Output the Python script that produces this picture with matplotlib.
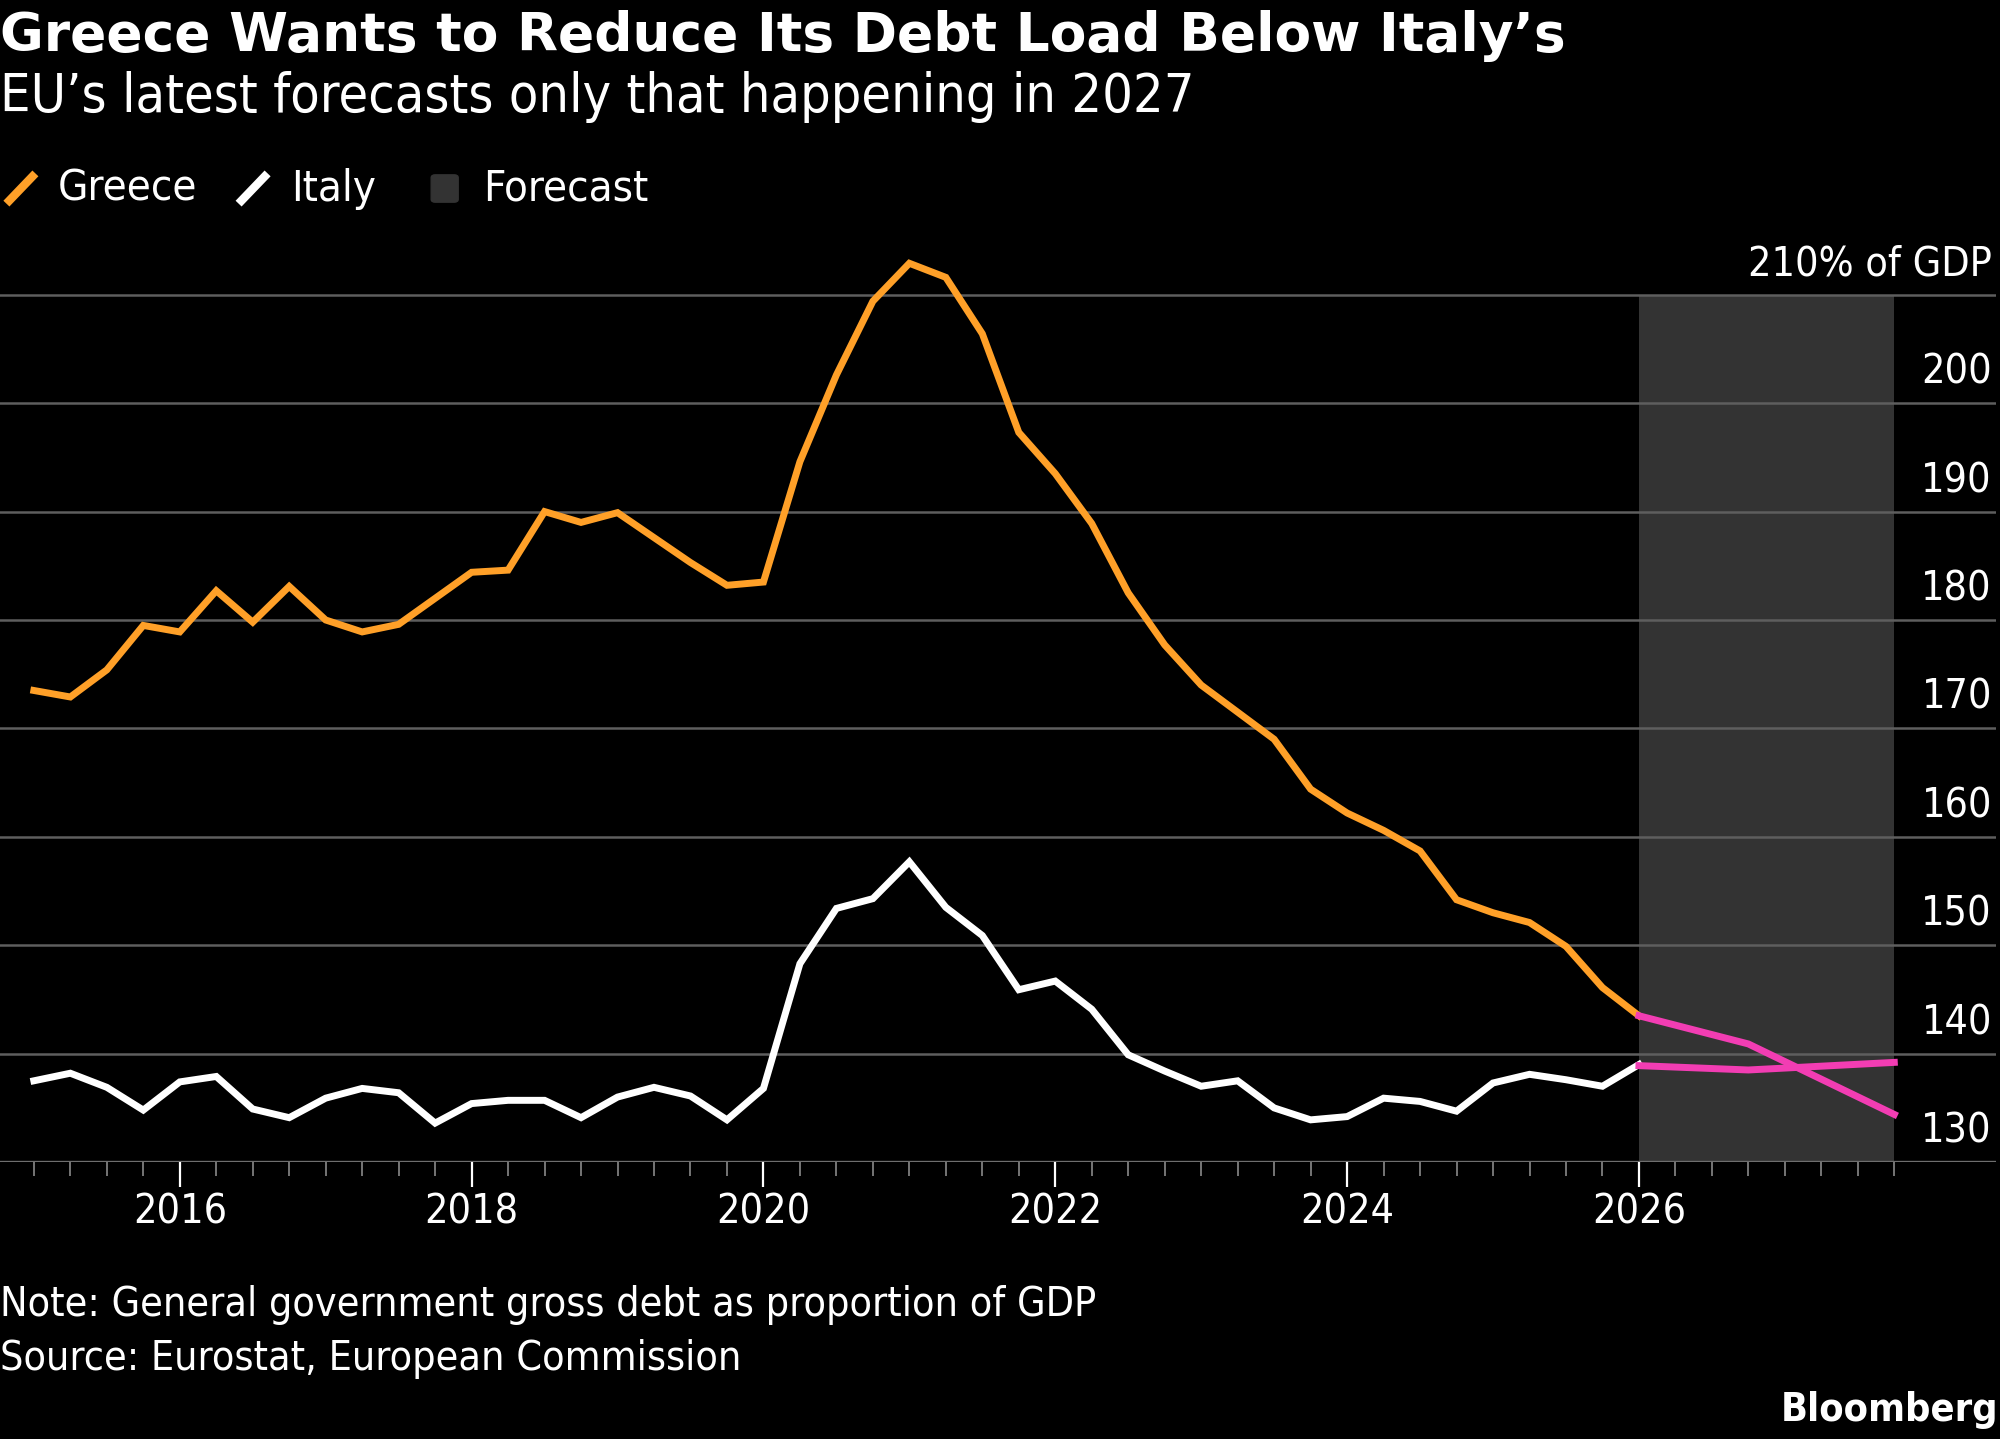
import numpy as np
import matplotlib
matplotlib.use('Agg')
import matplotlib.pyplot as plt
from matplotlib import font_manager
from matplotlib.lines import Line2D
from matplotlib.patches import FancyBboxPatch

# quarterly observations, plotted at fractional years
quarters = np.arange(2015.0, 2026.01, 0.25)
greece = [173.5, 172.9, 175.4, 179.5, 178.9, 182.7, 179.8, 183.1,
          180.0, 178.9, 179.6, 182.0, 184.4, 184.6, 190.0, 189.0,
          189.9, 187.6, 185.3, 183.2, 183.5, 194.6, 202.6, 209.4,
          212.9, 211.6, 206.4, 197.3, 193.5, 188.9, 182.5, 177.7,
          174.0, 171.5, 169.0, 164.4, 162.2, 160.6, 158.7, 154.2,
          153.0, 152.1, 149.9, 146.1, 143.5]
italy = [137.5, 138.2, 136.9, 134.8, 137.4, 137.9, 134.9, 134.1,
         135.9, 136.8, 136.4, 133.6, 135.4, 135.7, 135.7, 134.1,
         136.0, 136.9, 136.1, 133.9, 136.8, 148.3, 153.4, 154.3,
         157.7, 153.5, 150.9, 145.9, 146.7, 144.1, 139.9, 138.4,
         137.0, 137.5, 135.0, 133.9, 134.2, 135.9, 135.6, 134.7,
         137.3, 138.1, 137.6, 137.0, 139.0]

forecast_x = [2026.0, 2026.75, 2027.75]
greece_fc = [143.5, 140.9, 134.4]
italy_fc = [138.9, 138.5, 139.2]

year_ticks = [2016, 2018, 2020, 2022, 2024, 2026]
y_ticks = [130, 140, 150, 160, 170, 180, 190, 200, 210]
y_labels = ['130', '140', '150', '160', '170', '180', '190', '200', '210% of GDP']

ORANGE = '#FFA028'
PINK = '#F23DB3'
SHADE = '#333333'
GRID = '#5e5e5e'
LW = 5.0

names = {f.name for f in font_manager.fontManager.ttflist}
if 'Liberation Sans Narrow' in names:
    narrow = dict(family='Liberation Sans Narrow')
else:
    narrow = dict(family='DejaVu Sans', stretch='condensed')

fig = plt.figure(figsize=(20, 14.39), dpi=100, facecolor='black')
renderer = fig.canvas.get_renderer()


def fit(t, width_px):
    w = t.get_window_extent(renderer).width
    t.set_fontsize(t.get_fontsize() * width_px / w)
    return t.get_fontsize()


# base text size taken from the note line
note = fig.text(0.0, 0.0931, 'Note: General government gross debt as proportion of GDP',
                color='white', va='center', fontsize=30, **narrow)
fs = fit(note, 1094)
fig.text(0.0, 0.0559, 'Source: Eurostat, European Commission',
         color='white', va='center', fontsize=fs, **narrow)
logo = fig.text(0.999, 0.0204, 'Bloomberg', color='white', va='center', ha='right',
                fontweight='bold', fontsize=30, **narrow)
fit(logo, 217)

title = fig.text(0.0, 0.975, 'Greece Wants to Reduce Its Debt Load Below Italy\u2019s',
                 color='white', va='center', fontweight='bold', fontsize=34,
                 family='DejaVu Sans')
fit(title, 1566)
sub = fig.text(0.0, 0.9326, 'EU\u2019s latest forecasts only that happening in 2027',
               color='white', va='center', fontsize=40, **narrow)
fit(sub, 1193)

# legend
ly = 0.869
lfs = fs * 1.06
for x0, col, lab, tx in [(0.0032, ORANGE, 'Greece', 0.0287), (0.1193, 'white', 'Italy', 0.1454)]:
    fig.add_artist(Line2D([x0, x0 + 0.0145], [ly - 0.0105, ly + 0.0105], color=col, lw=6,
                          solid_capstyle='butt', transform=fig.transFigure))
    fig.text(tx, ly, lab, color='white', va='center', fontsize=lfs, **narrow)
fig.add_artist(FancyBboxPatch((0.2156, ly - 0.0095), 0.0135, 0.019,
                              boxstyle='round,pad=0,rounding_size=0.002',
                              color=SHADE, transform=fig.transFigure))
fig.text(0.2417, ly, 'Forecast', color='white', va='center', fontsize=lfs, **narrow)

ax = fig.add_axes([0.0, 0.1924, 0.998, 0.648])
ax.set_facecolor('black')
ax.set_xlim(2014.768, 2028.447)
ax.set_ylim(130, 216)

ax.fill_between([forecast_x[0], forecast_x[-1]], 130, 210, color=SHADE, lw=0, zorder=1)
for v in y_ticks[1:]:
    ax.axhline(v, color=GRID, lw=1.8, zorder=2)
ax.axhline(130, color='#6e6e6e', lw=2.4, zorder=2)

ax.plot(quarters, greece, color=ORANGE, lw=LW, solid_joinstyle='miter', zorder=4)
ax.plot(quarters, italy, color='white', lw=LW, solid_joinstyle='miter', zorder=4)
ax.plot(forecast_x, italy_fc, color=PINK, lw=LW, solid_joinstyle='miter', zorder=5)
ax.plot(forecast_x, greece_fc, color=PINK, lw=LW, solid_joinstyle='miter', zorder=5)

for v, lab in zip(y_ticks, y_labels):
    ax.text(0.996 / 0.998, v + 1.8, lab, transform=ax.get_yaxis_transform(),
            ha='right', va='baseline', color='white', fontsize=fs, **narrow)

for s in ax.spines.values():
    s.set_visible(False)
ax.set_xticks(year_ticks)
ax.set_xticklabels([str(y) for y in year_ticks], color='white', fontsize=fs, **narrow)
ax.set_xticks(np.arange(2015.0, 2027.76, 0.25), minor=True)
ax.tick_params(axis='x', which='major', length=18, width=1.6, color='white', pad=4)
ax.tick_params(axis='x', which='minor', length=10, width=1.2, color='#8a8a8a')
ax.tick_params(axis='y', left=False, labelleft=False)

fig.savefig('out.png', dpi=100, facecolor='black')
